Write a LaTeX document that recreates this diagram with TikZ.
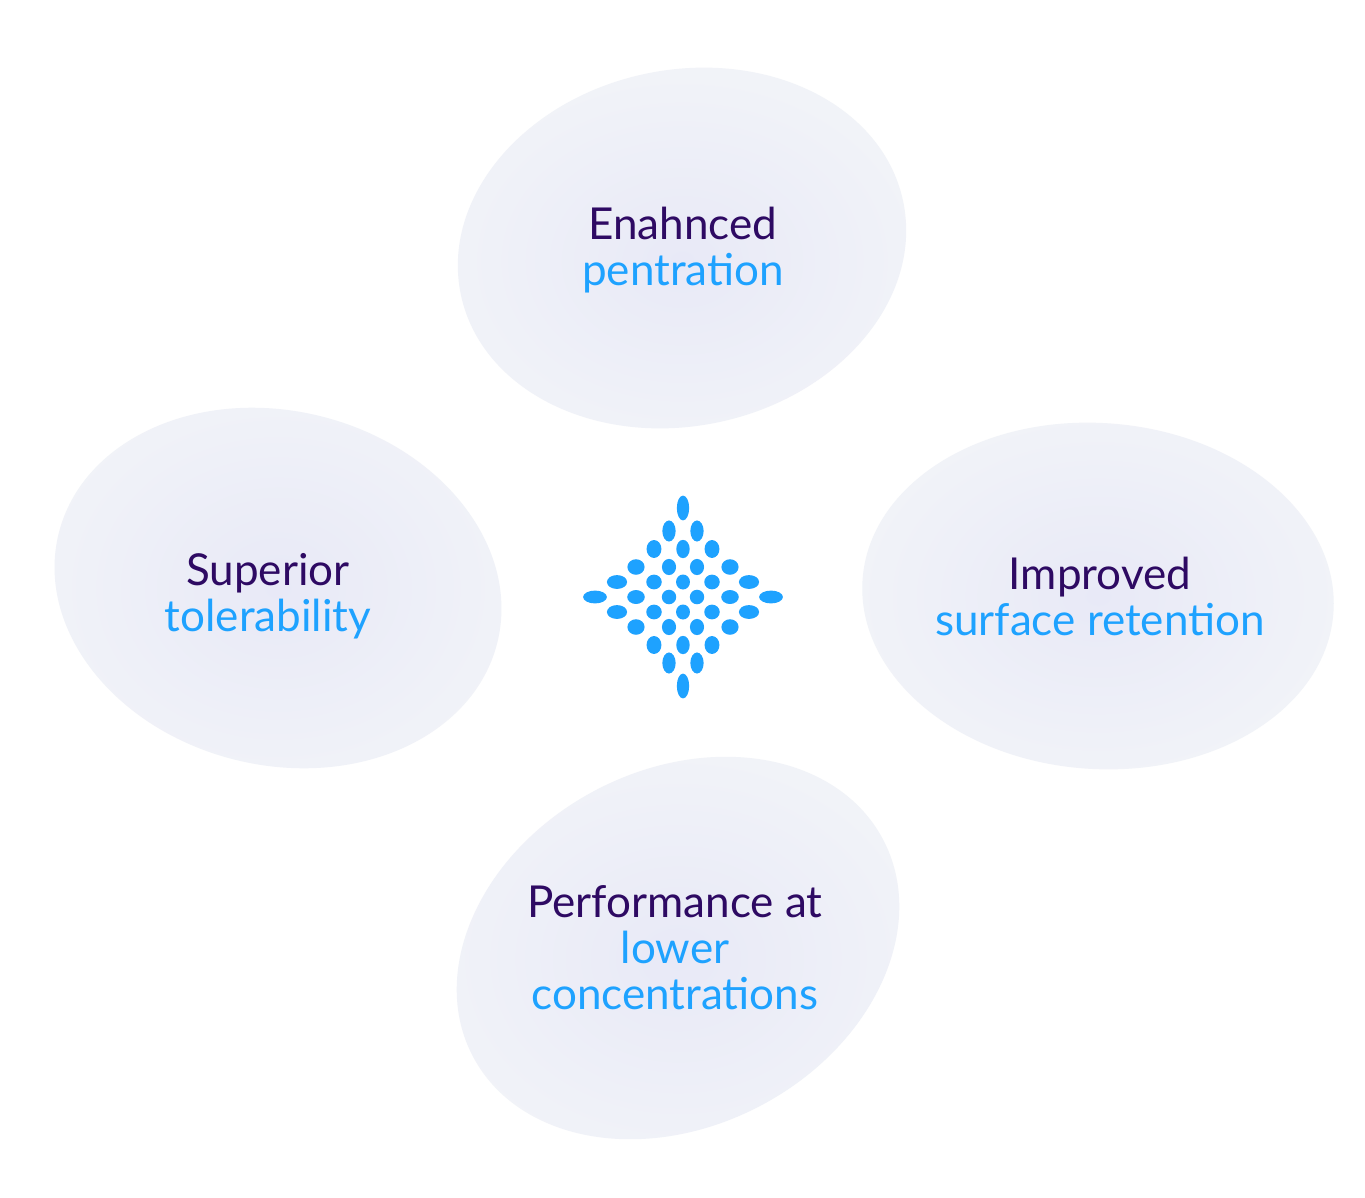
\documentclass[tikz,border=0pt]{standalone}
\usepackage{fontspec}
\setmainfont{Lato}
\begin{document}
\definecolor{dk}{HTML}{2E0A63}
\definecolor{bl}{HTML}{1EA2FF}
\definecolor{blobin}{HTML}{E8E9F7}
\definecolor{blobout}{HTML}{F1F3F8}
\begin{tikzpicture}[x=1pt,y=-1pt,
  blob/.style={inner color=blobin,outer color=blobout,draw=none},
  lbl/.style={align=center,font=\fontsize{44}{46}\selectfont,inner sep=0pt}]
\useasboundingbox[fill=white] (0,0) rectangle (1365,1197);
\shade[blob,rotate around={12:(682,248)}] (682,248) ellipse[x radius=226,y radius=178];
\shade[blob,rotate around={-14:(278,588)}] (278,588) ellipse[x radius=226,y radius=177];
\shade[blob,rotate around={-4:(1098,596)}] (1098,596) ellipse[x radius=236,y radius=173];
\shade[blob,rotate around={28:(678,948)}] (678,948) ellipse[x radius=232,y radius=178];
\node[lbl] (t) at (683,250) {\textcolor{dk}{Enahnced}\\\textcolor{bl}{pentration}};
\node[lbl] (l) at (268,596) {\textcolor{dk}{Superior}\\\textcolor{bl}{tolerability}};
\node[lbl] (r) at (1100,596) {\textcolor{dk}{Improved}\\\textcolor{bl}{surface retention}};
\node[lbl] (b) at (675,948) {\textcolor{dk}{Performance at}\\\textcolor{bl}{lower}\\\textcolor{bl}{ concentrations}};
\foreach \i in {0,...,5}{
  \foreach \j in {0,...,5}{
    \pgfmathtruncatemacro\u{\i-\j}
    \pgfmathtruncatemacro\v{\i+\j-5}
    \pgfmathsetmacro\xx{683+sign(\u)*{0,14,29,47,66,88}[abs(\u)]}
    \pgfmathsetmacro\yy{597+sign(\v)*{0,15,30,48,66,89}[abs(\v)]}
    \pgfmathsetmacro\rx{7*(1+0.7*(\u/5)^2)*(1-0.12*(\v/5)^2)}
    \pgfmathsetmacro\ry{7.3*(1+0.7*(\v/5)^2)*(1-0.12*(\u/5)^2)}
    \fill[bl] (\xx,\yy) ellipse[x radius=\rx,y radius=\ry];
  }}
\end{tikzpicture}
\end{document}
